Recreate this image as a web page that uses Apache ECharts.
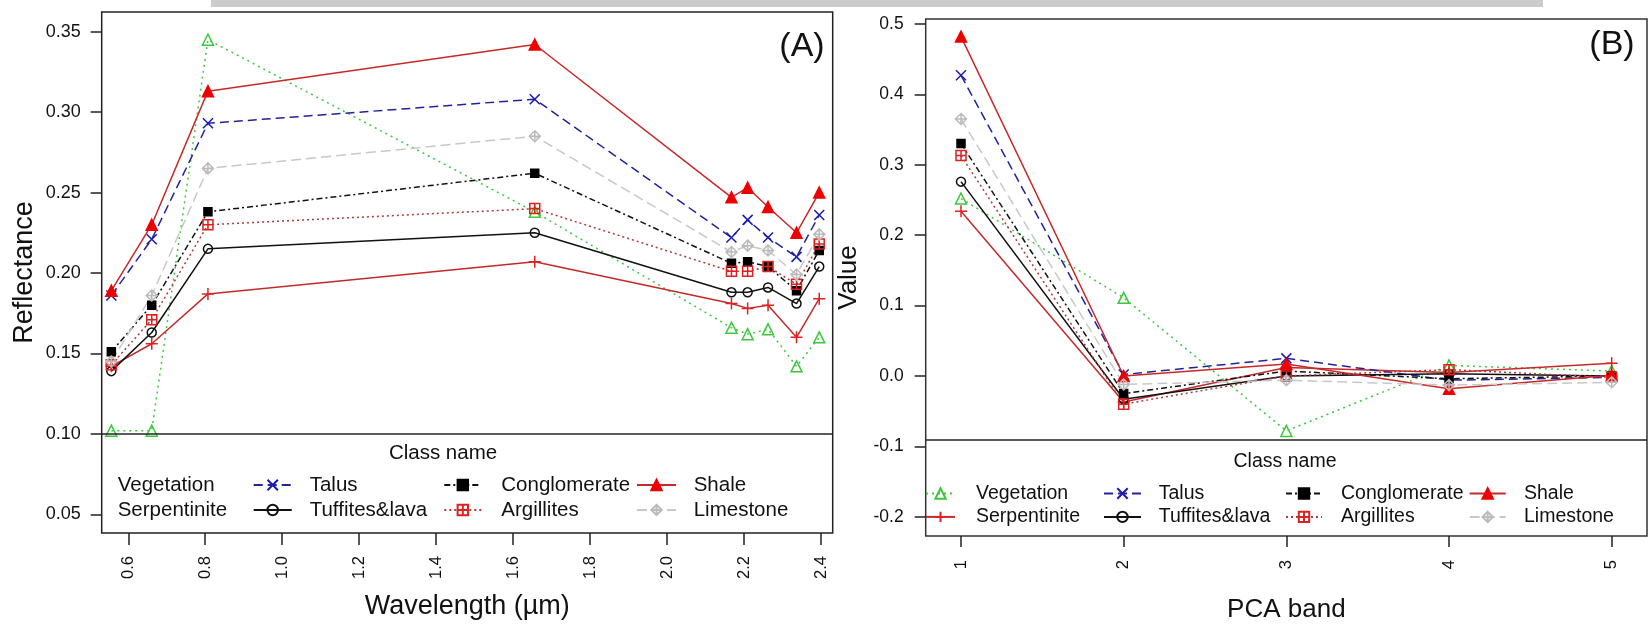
<!DOCTYPE html>
<html>
<head>
<meta charset="utf-8">
<script src="https://cdn.jsdelivr.net/npm/echarts@6/dist/echarts.min.js"></script>
<style>
html,body{margin:0;padding:0;background:#fff;}
#c{width:1648px;height:628px;}
</style>
</head>
<body>
<div id="c"></div>
<script>
// ---------------- DATA ----------------
const classNames = ['Vegetation','Serpentinite','Talus','Tuffites&lava','Conglomerate','Argillites','Shale','Limestone'];

// Panel A: reflectance vs wavelength (µm)
const wavelengths = [0.556, 0.661, 0.807, 1.656, 2.167, 2.209, 2.262, 2.336, 2.395];
const vegetationA   = [0.102, 0.102, 0.345, 0.238, 0.166, 0.162, 0.165, 0.142, 0.160];
const serpentiniteA = [0.142, 0.156, 0.187, 0.207, 0.181, 0.178, 0.180, 0.160, 0.184];
const talusA        = [0.186, 0.221, 0.293, 0.308, 0.222, 0.233, 0.222, 0.210, 0.236];
const tuffitesA     = [0.139, 0.163, 0.215, 0.225, 0.188, 0.188, 0.191, 0.181, 0.204];
const conglomerateA = [0.151, 0.180, 0.238, 0.262, 0.206, 0.207, 0.204, 0.189, 0.214];
const argillitesA   = [0.143, 0.171, 0.230, 0.240, 0.201, 0.201, 0.204, 0.193, 0.218];
const shaleA        = [0.189, 0.230, 0.313, 0.342, 0.247, 0.253, 0.241, 0.225, 0.250];
const limestoneA    = [0.145, 0.186, 0.265, 0.285, 0.213, 0.217, 0.214, 0.199, 0.224];

// Panel B: value vs PCA band
const pcaBands = [1, 2, 3, 4, 5];
const vegetationB   = [0.252, 0.111, -0.078, 0.015, 0.007];
const serpentiniteB = [0.234, -0.037, 0.012, 0.005, 0.018];
const talusB        = [0.427, 0.002, 0.025, -0.006, -0.002];
const tuffitesB     = [0.276, -0.033, 0.000, 0.003, 0.000];
const conglomerateB = [0.330, -0.025, 0.007, -0.004, 0.000];
const argillitesB   = [0.313, -0.040, 0.000, 0.009, -0.002];
const shaleB        = [0.482, 0.000, 0.017, -0.018, 0.001];
const limestoneB    = [0.365, -0.012, -0.006, -0.013, -0.009];

// Tick labels
const xTicksA = [0.6, 0.8, 1.0, 1.2, 1.4, 1.6, 1.8, 2.0, 2.2, 2.4];
const yTicksA = [0.05, 0.10, 0.15, 0.20, 0.25, 0.30, 0.35];
const xTicksB = [1, 2, 3, 4, 5];
const yTicksB = [-0.2, -0.1, 0.0, 0.1, 0.2, 0.3, 0.4, 0.5];

// legend separator values (top of the legend box)
const legendTopA = 0.10;
const legendTopB = -0.0938;

// ---------------- STYLES ----------------
const FONT = '"Liberation Sans", Arial, sans-serif';
const styles = {
  'Vegetation':   {line:'#3cc83c', type:[2,4], symbol:'triangle', size:11, fill:'rgba(0,0,0,0)', stroke:'#3cc83c'},
  'Serpentinite': {line:'#c42a2a', type:'solid', symbol:'path://M5,0L5,10M0,5L10,5', size:12, fill:'rgba(0,0,0,0)', stroke:'#e02020'},
  'Talus':        {line:'#22229a', type:[9,5], symbol:'path://M0,0L10,10M10,0L0,10', size:10, fill:'rgba(0,0,0,0)', stroke:'#1a1ab0'},
  'Tuffites&lava':{line:'#111111', type:'solid', symbol:'circle', size:9, fill:'rgba(0,0,0,0)', stroke:'#111111'},
  'Conglomerate': {line:'#111111', type:[6,3,2,3], symbol:'rect', size:8, fill:'#000000', stroke:'#000000'},
  'Argillites':   {line:'#b03a3a', type:[2,3], symbol:'path://M0,0L10,0L10,10L0,10ZM5,0L5,10M0,5L10,5', size:10, fill:'rgba(0,0,0,0)', stroke:'#dd2020'},
  'Shale':        {line:'#c82828', type:'solid', symbol:'triangle', size:11, fill:'#ee0000', stroke:'#ee0000'},
  'Limestone':    {line:'#c8c8c8', type:[10,5], symbol:'path://M5,0L10,5L5,10L0,5ZM5,0L5,10M0,5L10,5', size:11, fill:'rgba(0,0,0,0)', stroke:'#bbbbbb'}
};

const valuesA = {'Vegetation':vegetationA,'Serpentinite':serpentiniteA,'Talus':talusA,'Tuffites&lava':tuffitesA,
  'Conglomerate':conglomerateA,'Argillites':argillitesA,'Shale':shaleA,'Limestone':limestoneA};
const valuesB = {'Vegetation':vegetationB,'Serpentinite':serpentiniteB,'Talus':talusB,'Tuffites&lava':tuffitesB,
  'Conglomerate':conglomerateB,'Argillites':argillitesB,'Shale':shaleB,'Limestone':limestoneB};

function makeSeries(name, xs, ys, gridIdx) {
  const s = styles[name];
  return {
    type:'line', name:name, xAxisIndex:gridIdx, yAxisIndex:gridIdx,
    data: xs.map((x,i)=>[x, ys[i]]),
    symbol:s.symbol, symbolSize:s.size, showAllSymbol:true,
    lineStyle:{color:s.line, width:1.5, type:s.type},
    itemStyle:{color:s.fill, borderColor:s.stroke, borderWidth:1.5},
    emphasis:{disabled:true}, z: 3
  };
}

const series = [];
classNames.forEach(n => series.push(makeSeries(n, wavelengths, valuesA[n], 0)));
classNames.forEach(n => series.push(makeSeries(n, pcaBands, valuesB[n], 1)));

function sepLine(v){
  return {silent:true, symbol:['none','none'], label:{show:false},
    lineStyle:{color:'#222', width:1.5, type:'solid'}, data:[{yAxis:v}]};
}
series[0].markLine = sepLine(legendTopA);
series[8].markLine = sepLine(legendTopB);

function legendCol(names, left, top, itemWidth, pad, lineH, gap, fs, hidden) {
  return {
    orient:'vertical', left:left, top:top, padding:0, itemGap:gap,
    itemWidth:itemWidth, itemHeight:13, selectedMode:false,
    textStyle:{fontFamily:FONT, fontSize:fs, color:'#111', padding:[0,0,0,pad], lineHeight:lineH},
    data: names.map(n => hidden ? {name:n, itemStyle:{opacity:0}, lineStyle:{opacity:0}} : {name:n})
  };
}

function tickStyle(len, vals){
  return {show:true, length:len, customValues:vals, lineStyle:{color:'#222', width:1.5}};
}

const option = {
  animation:false,
  backgroundColor:'#ffffff',
  grid:[
    {left:101.7, top:12, width:731, height:521, show:true, borderColor:'#222', borderWidth:1.5, backgroundColor:'rgba(0,0,0,0)'},
    {left:925.7, top:19, width:721.3, height:520.3, show:true, borderColor:'#333', borderWidth:1.5, backgroundColor:'rgba(0,0,0,0)'}
  ],
  xAxis:[
    {
      type:'value', gridIndex:0, min:0.531, max:2.430, position:'bottom',
      axisLine:{show:false, onZero:false}, splitLine:{show:false},
      axisTick:tickStyle(12, xTicksA),
      axisLabel:{customValues:xTicksA, rotate:90, margin:23, fontSize:16.5, fontFamily:FONT, color:'#111',
        formatter:v=>v.toFixed(1)},
      name:'Wavelength (µm)', nameLocation:'middle', nameGap:60,
      nameTextStyle:{fontSize:27, fontFamily:FONT, color:'#111'}
    },
    {
      type:'value', gridIndex:1, min:0.783, max:5.217, position:'bottom',
      axisLine:{show:false, onZero:false}, splitLine:{show:false},
      axisTick:tickStyle(11, xTicksB),
      axisLabel:{customValues:xTicksB, rotate:90, margin:24, fontSize:16.5, fontFamily:FONT, color:'#111',
        formatter:v=>String(v)},
      name:'PCA band', nameLocation:'middle', nameGap:61,
      nameTextStyle:{fontSize:26, fontFamily:FONT, color:'#111'}
    }
  ],
  yAxis:[
    {
      type:'value', gridIndex:0, min:0.0384, max:0.3622, position:'left',
      axisLine:{show:false, onZero:false}, splitLine:{show:false},
      axisTick:tickStyle(11, yTicksA),
      axisLabel:{customValues:yTicksA, margin:21, fontSize:18, fontFamily:FONT, color:'#111',
        formatter:v=>v.toFixed(2)},
      name:'Reflectance', nameLocation:'middle', nameGap:64,
      nameTextStyle:{fontSize:27, fontFamily:FONT, color:'#111'}
    },
    {
      type:'value', gridIndex:1, min:-0.2273, max:0.507, position:'left',
      axisLine:{show:false, onZero:false}, splitLine:{show:false},
      axisTick:tickStyle(11, yTicksB),
      axisLabel:{customValues:yTicksB, margin:22, fontSize:17.5, fontFamily:FONT, color:'#111',
        formatter:v=>v.toFixed(1)},
      name:'Value', nameLocation:'middle', nameGap:64,
      nameTextStyle:{fontSize:26, fontFamily:FONT, color:'#111'}
    }
  ],
  legend:[
    legendCol(['Vegetation','Serpentinite'], 61.7, 474, 37, 13, 22, 3, 20.5, true),
    legendCol(['Talus','Tuffites&lava'], 252.7, 474, 38, 13, 22, 3, 20.5, false),
    legendCol(['Conglomerate','Argillites'], 443.3, 474, 37, 15, 22, 3, 20.5, false),
    legendCol(['Shale','Limestone'], 636, 474, 39, 12.7, 22, 3, 20.5, false),
    legendCol(['Vegetation','Serpentinite'], 925, 483, 29, 16, 21, 2.4, 19.5, false),
    legendCol(['Talus','Tuffites&lava'], 1103, 483, 37, 12.7, 21, 2.4, 19.5, false),
    legendCol(['Conglomerate','Argillites'], 1285, 483, 36, 14, 21, 2.4, 19.5, false),
    legendCol(['Shale','Limestone'], 1468.7, 483, 36, 13.3, 21, 2.4, 19.5, false)
  ],
  graphic:[
    {type:'rect', left:211, top:0, shape:{width:1332, height:7}, style:{fill:'#cccccc'}, silent:true},
    {type:'text', x:802, y:47, style:{text:'(A)', font:'34px '+FONT, fill:'#111', align:'center', verticalAlign:'middle'}},
    {type:'text', x:1612, y:45, style:{text:'(B)', font:'34px '+FONT, fill:'#111', align:'center', verticalAlign:'middle'}},
    {type:'text', x:443, y:453, style:{text:'Class name', font:'20.5px '+FONT, fill:'#111', align:'center', verticalAlign:'middle'}},
    {type:'text', x:1285, y:462, style:{text:'Class name', font:'19.5px '+FONT, fill:'#111', align:'center', verticalAlign:'middle'}}
  ],
  series: series
};

const chart = echarts.init(document.getElementById('c'), null, {renderer:'canvas'});
chart.setOption(option);
</script>
</body>
</html>
